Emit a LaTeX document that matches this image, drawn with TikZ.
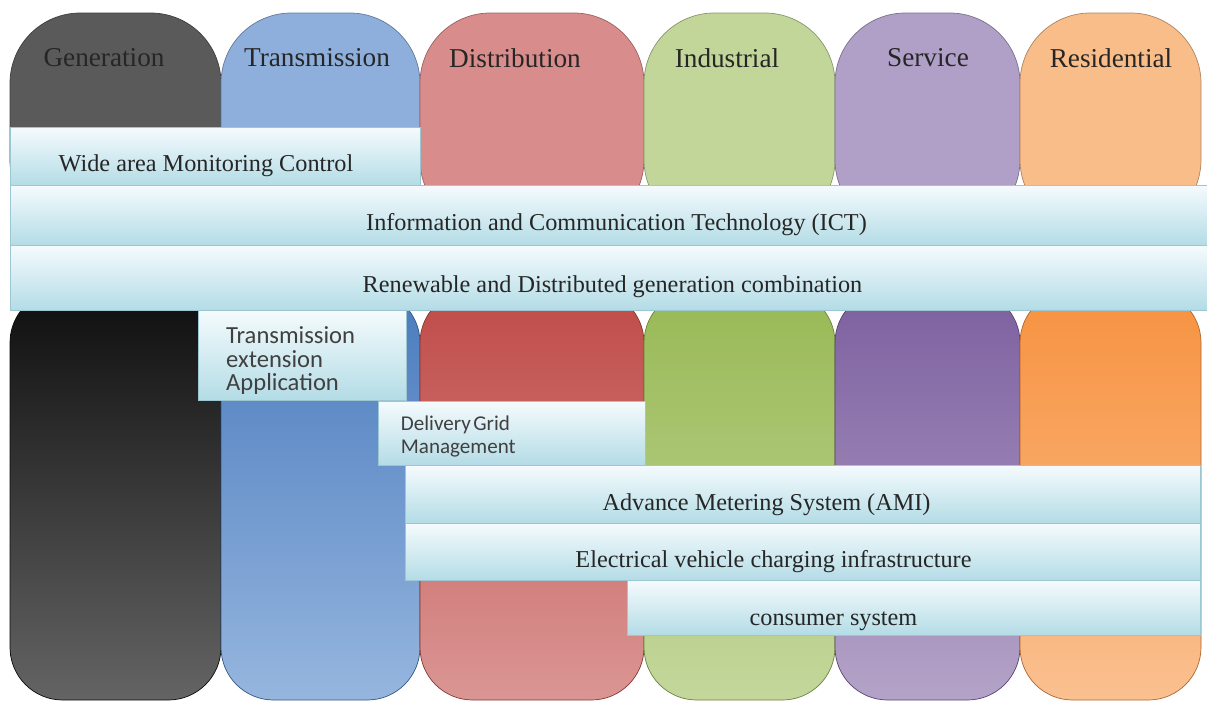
\documentclass[tikz,border=0pt]{standalone}
\usepackage{fontspec}
\setmainfont{Liberation Serif}
\newfontfamily\serfont{Liberation Serif}
\newfontfamily\calfont{Carlito}
\usepackage{xcolor}
\usetikzlibrary{calc,
	positioning,
	fit,
	shadows}
\definecolor{genTop}{HTML}{5A5A5A}
\definecolor{genDark}{HTML}{0E0E0E}
\definecolor{genLight}{HTML}{646464}
\definecolor{traTop}{HTML}{8EAEDB}
\definecolor{traDark}{HTML}{4A7BBE}
\definecolor{traLight}{HTML}{96B6DE}
\definecolor{disTop}{HTML}{D98C8C}
\definecolor{disDark}{HTML}{BF4B48}
\definecolor{disLight}{HTML}{DA9694}
\definecolor{indTop}{HTML}{C2D69A}
\definecolor{indDark}{HTML}{98B955}
\definecolor{indLight}{HTML}{C4D79C}
\definecolor{serTop}{HTML}{B0A0C8}
\definecolor{serDark}{HTML}{7D60A0}
\definecolor{serLight}{HTML}{B4A3C8}
\definecolor{resTop}{HTML}{F9BD8A}
\definecolor{resDark}{HTML}{F79240}
\definecolor{resLight}{HTML}{FAC090}
\definecolor{bandTop}{HTML}{F5FBFD}
\definecolor{bandBot}{HTML}{B4DCE6}
\definecolor{bandEdge}{HTML}{9CC6D2}
\tikzset{
	collabel/.style={font=\serfont\fontsize{15.5}{18}\selectfont, text=black!85},
	band/.style={shade, top color=bandTop, bottom color=bandBot, draw=bandEdge,
		line width=0.3pt, inner sep=0pt, drop shadow={opacity=0.25, shadow xshift=0.6pt, shadow yshift=-0.8pt}},
	bandtext/.style={font=\serfont\fontsize{13.8}{16}\selectfont, text=black!85, inner sep=0pt},
	sanstext/.style={align=left, text=black!75, inner sep=0pt}
}
\begin{document}
\begin{tikzpicture}[x=0.02cm, y=-0.02cm]
	\useasboundingbox (0,0) rectangle (1207,704);
	% the six columns
	\foreach \xa/\xb/\xl/\cc/\name/\lab in {10/221/104/gen/generation/Generation,
		221/420/317/tra/transmission/Transmission,
		420/644/515/dis/distribution/Distribution,
		644/835/727/ind/industrial/Industrial,
		835/1020/928/ser/service/Service,
		1020/1201/1111/res/residential/Residential} {
		\draw[draw=\cc Top!70!black, fill=\cc Top, line width=0.4pt, rounded corners=40] (\xa,13) rectangle (\xb,230);
		\shade[draw=\cc Dark!70!black, line width=0.4pt, top color=\cc Dark, bottom color=\cc Light, rounded corners=30] (\xa,290) rectangle (\xb,700);
		\node[collabel] (\name) at (\xl,58) {\lab};
	}
	% layers across the columns
	\node[band, fit={(10,127) (420,185)}] (wide) {};
	\node[bandtext] (widelab) at ($(wide)+(-9,10)$) {Wide area Monitoring Control};
	\node[band, fit={(10,185) (1207,245)}] (ict) {};
	\node[bandtext] (ictlab) at ($(ict)+(8,10)$) {Information and Communication Technology (ICT)};
	\node[band, fit={(10,245) (1207,310)}] (renew) {};
	\node[bandtext] (renewlab) at ($(renew)+(4,9)$) {Renewable and Distributed generation combination};
	\node[band, fit={(198,310) (406,400)}] (ext) {};
	\node[sanstext, font=\calfont\fontsize{14}{13.4}\selectfont, below right=9.5pt and 16pt of ext.north west] (extlab) {Transmission\\extension\\Application};
	\node[band, fit={(378,401) (645,465)}] (grid) {};
	\node[sanstext, font=\calfont\fontsize{12}{13}\selectfont, below right=8.5pt and 13pt of grid.north west] (gridlab) {Delivery\hspace{0.12em}Grid\\Management};
	\node[band, fit={(405,465) (1200,523)}] (ami) {};
	\node[bandtext] (amilab) at ($(ami)+(-36,11)$) {Advance Metering System (AMI)};
	\node[band, fit={(405,523) (1200,580)}] (ev) {};
	\node[bandtext] (evlab) at ($(ev)+(-29,10)$) {Electrical vehicle charging infrastructure};
	\node[band, fit={(627,580) (1200,635)}] (consumer) {};
	\node[bandtext] (consumerlab) at ($(consumer)+(-80,14)$) {consumer system};
\end{tikzpicture}
\end{document}
